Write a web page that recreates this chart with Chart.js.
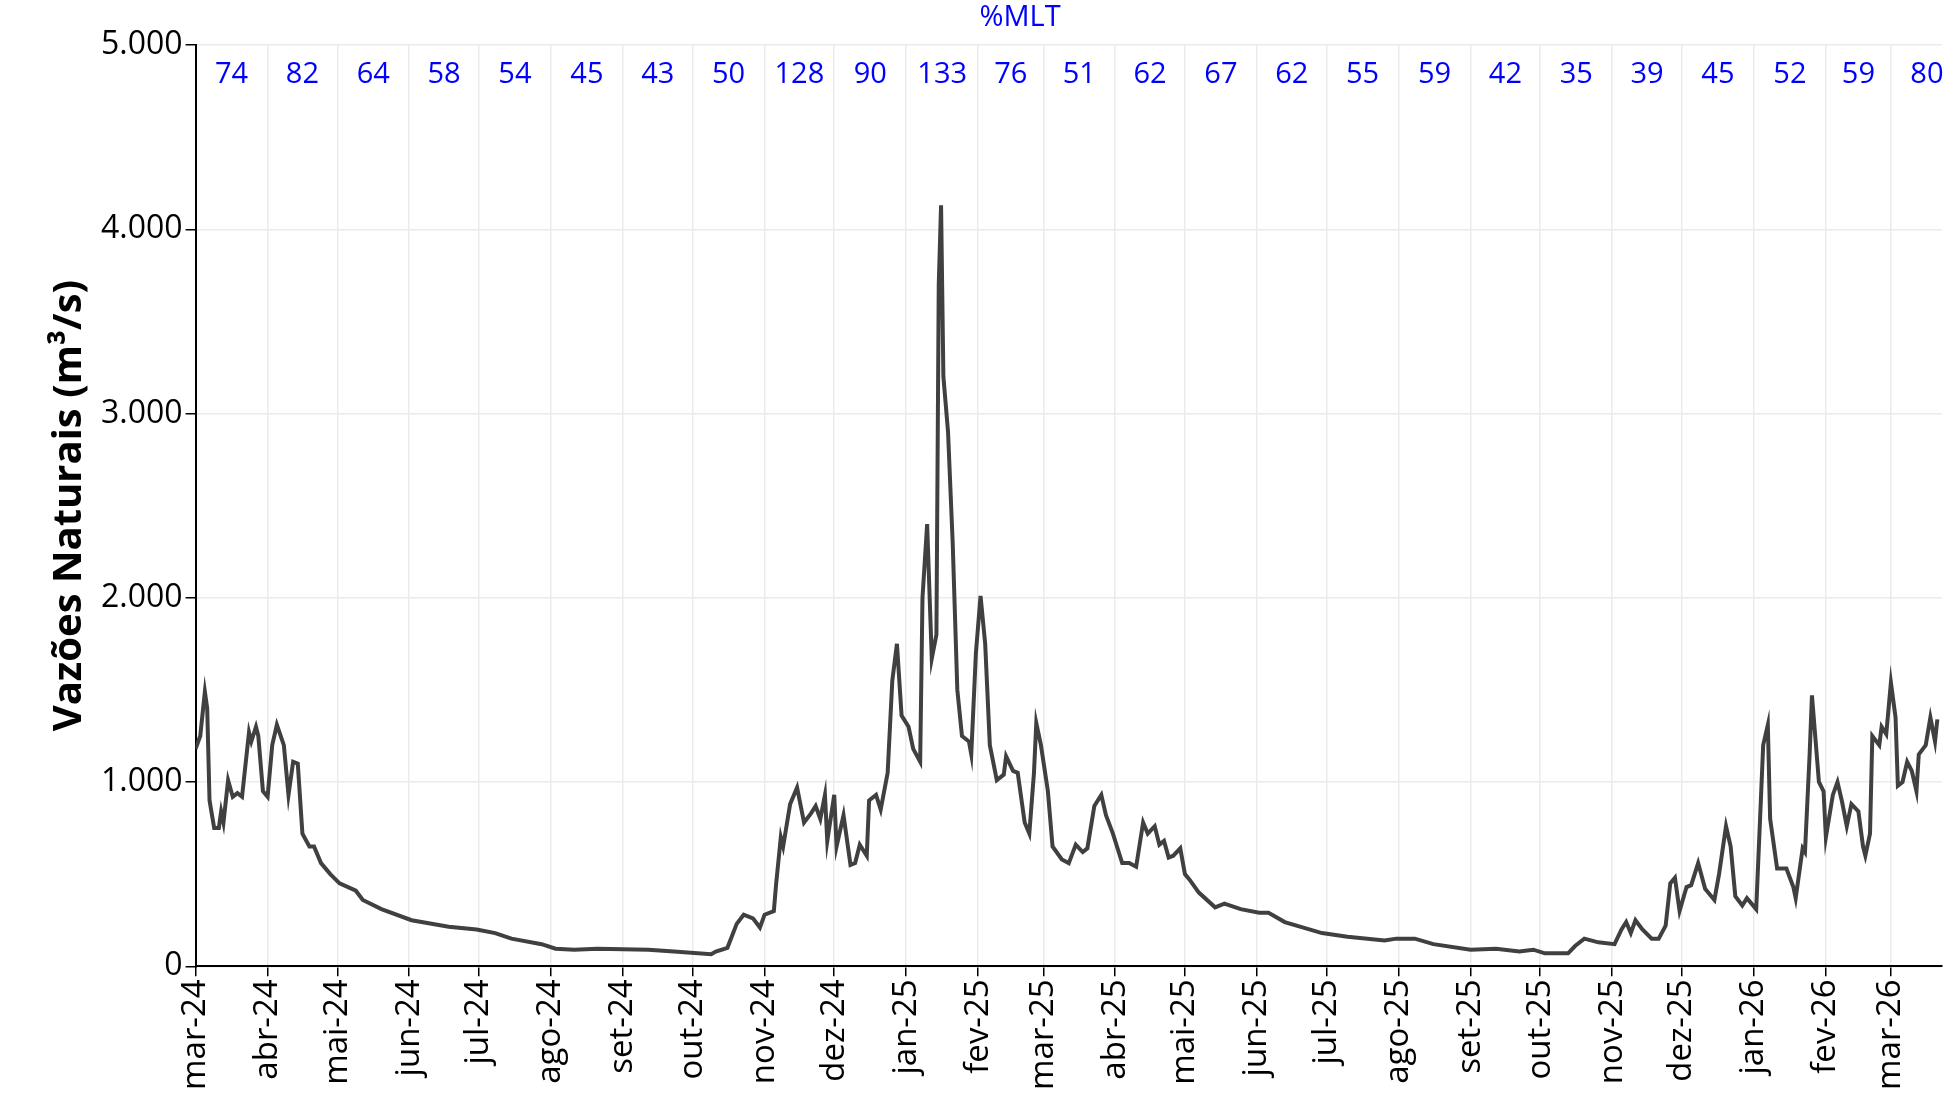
<!DOCTYPE html>
<html>
<head>
<meta charset="utf-8">
<script src="https://cdn.jsdelivr.net/npm/chart.js@4"></script>
<style>
  html, body { margin: 0; padding: 0; background: #fff; }
  #wrap { width: 1954px; height: 1105px; }
</style>
</head>
<body>
<div id="wrap"><canvas id="vazoes"></canvas></div>
<script>
// dias contados a partir de 01/03/2024
const days = [0,2,4,5,6,8,10,11,12,14,16,18,20,23,24,26,27,29,31,33,35,38,40,42,44,46,49,51,54,58,62,69,72,80,93,109,121,129,136,149,155,163,173,195,206,222,224,229,233,236,240,243,245,249,250,252,253,256,259,262,265,267,269,271,272,275,276,279,282,284,286,289,290,293,295,298,300,302,304,307,309,312,313,315,317,319,320,321,322,324,326,328,330,333,334,336,338,340,342,345,348,349,352,354,357,359,361,362,364,367,369,373,376,379,382,384,387,390,392,395,399,402,405,408,410,413,415,417,419,421,424,426,428,432,439,443,450,458,462,469,477,485,496,512,517,525,533,549,560,570,576,581,591,594,598,604,611,614,616,618,620,623,627,630,633,635,637,639,642,644,647,650,654,656,659,661,663,666,668,672,674,675,677,678,681,685,688,689,692,693,695,696,699,701,702,705,707,709,711,713,716,718,719,721,722,725,726,728,730,732,733,735,737,739,741,742,745,747,749,750];
const vazoes = [1180,1250,1490,1400,900,750,750,840,780,1010,920,940,920,1270,1220,1300,1250,950,920,1200,1310,1200,930,1110,1100,720,650,650,560,500,450,410,360,310,250,215,200,180,150,120,95,90,95,90,80,65,80,100,230,280,260,210,280,300,450,700,650,880,970,780,830,870,800,930,680,930,650,820,550,560,660,600,900,930,850,1050,1550,1750,1360,1300,1180,1110,2000,2400,1670,1800,3700,4130,3200,2900,2300,1500,1250,1220,1150,1700,2010,1750,1200,1010,1040,1140,1060,1050,780,720,1050,1320,1200,950,650,580,560,660,620,640,870,930,820,720,560,560,540,780,720,760,660,680,590,600,640,500,470,400,320,340,310,290,290,240,210,180,160,140,150,150,120,90,95,80,90,70,70,110,150,130,120,200,240,180,250,200,150,150,220,450,480,300,430,440,560,420,360,500,760,650,380,330,370,310,900,1200,1310,800,530,530,430,370,640,620,1150,1470,1000,950,700,930,1000,890,760,880,840,650,600,720,1250,1200,1300,1260,1540,1350,980,1000,1110,1060,950,1150,1200,1350,1220,1340];
const months = ['mar-24','abr-24','mai-24','jun-24','jul-24','ago-24','set-24','out-24','nov-24','dez-24','jan-25','fev-25','mar-25','abr-25','mai-25','jun-25','jul-25','ago-25','set-25','out-25','nov-25','dez-25','jan-26','fev-26','mar-26'];
const mlt = [74,82,64,58,54,45,43,50,128,90,133,76,51,62,67,62,55,59,42,35,39,45,52,59,80];

const start = new Date(2024, 2, 1);
const monthDay = i => Math.round((new Date(2024, 2 + i, 1) - start) / 86400000);
const monthStarts = months.map((m, i) => monthDay(i));
const xMax = 752;

const mltPlugin = {
  id: 'mlt',
  afterDraw(chart) {
    const { ctx, scales: { x }, chartArea } = chart;
    ctx.save();
    ctx.fillStyle = '#0000ff';
    ctx.textAlign = 'center';
    ctx.textBaseline = 'middle';
    ctx.font = '29px "Open Sans"';
    ctx.fillText('%MLT', x.getPixelForValue(355), 18);
    mlt.forEach((v, i) => {
      const mid = Math.min((monthDay(i) + monthDay(i + 1)) / 2, xMax - 3);
      ctx.fillText(String(v), x.getPixelForValue(mid), chartArea.top + 30);
    });
    ctx.restore();
  }
};

new Chart(document.getElementById('vazoes'), {
  type: 'line',
  data: {
    datasets: [{
      data: days.map((d, i) => ({ x: d, y: vazoes[i] })),
      borderColor: '#404040',
      borderWidth: 4,
      pointRadius: 0,
      tension: 0,
      fill: false
    }]
  },
  options: {
    responsive: true,
    maintainAspectRatio: false,
    animation: false,
    layout: { padding: { top: 45, right: 12, left: 42, bottom: 12 } },
    plugins: { legend: { display: false }, tooltip: { enabled: false } },
    scales: {
      x: {
        type: 'linear',
        min: 0,
        max: xMax,
        afterBuildTicks: axis => { axis.ticks = monthStarts.map(v => ({ value: v })); },
        ticks: {
          autoSkip: false,
          maxRotation: 90,
          minRotation: 90,
          color: '#000',
          font: { family: '"Open Sans"', size: 33 },
          callback: v => months[monthStarts.indexOf(v)]
        },
        grid: { color: '#ebebeb', tickColor: '#000', tickLength: 10, lineWidth: 1.5 },
        border: { color: '#000', width: 2 }
      },
      y: {
        min: 0,
        max: 5000,
        ticks: {
          stepSize: 1000,
          color: '#000',
          font: { family: '"Open Sans"', size: 32 },
          callback: v => v.toLocaleString('pt-BR')
        },
        grid: { color: '#ebebeb', tickColor: '#000', tickLength: 10, lineWidth: 1.5 },
        border: { color: '#000', width: 2 },
        title: {
          display: true,
          text: 'Vazões Naturais (m³/s)',
          color: '#000',
          font: { family: '"Open Sans"', size: 40, weight: 'bold' }
        }
      }
    }
  },
  plugins: [mltPlugin]
});
</script>
</body>
</html>
